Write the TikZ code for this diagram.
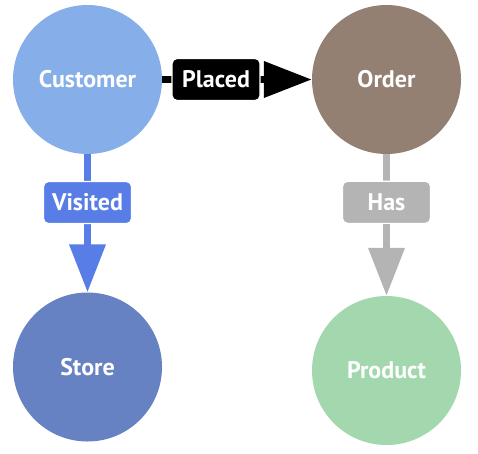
\documentclass[tikz,border=0pt]{standalone}
\usepackage{fontspec}
\setmainfont{PT Sans}
\usetikzlibrary{arrows.meta}
\definecolor{customer}{RGB}{134,174,232}
\definecolor{order}{RGB}{147,128,114}
\definecolor{store}{RGB}{102,130,194}
\definecolor{product}{RGB}{163,215,174}
\definecolor{visited}{RGB}{88,125,230}
\definecolor{has}{RGB}{180,180,180}
\tikzset{entity/.style={shape=circle, minimum size=149pt, inner sep=0pt,
    text=white, font=\bfseries\fontsize{24}{28}\selectfont}}
\tikzset{rel/.style={line width=7pt, -{Triangle[length=48pt,width=35pt]}}}
\tikzset{tag/.style={rounded corners=5pt, draw=white, line width=1.2pt,
    minimum width=88pt, minimum height=42pt, inner sep=0pt,
    text=white, font=\bfseries\fontsize{24}{28}\selectfont}}

\begin{document}
\begin{tikzpicture}[x=1pt,y=-1pt]
    \useasboundingbox (0,0) rectangle (478,453);

    \node[entity, fill=customer] (C) at (87.5,79.5) {Customer};
    \node[entity, fill=order] (O) at (386.5,79.5) {Order};
    \node[entity, fill=store] (S) at (87.5,367) {Store};
    \node[entity, fill=product] (P) at (386.5,370.5) {Product};

    \draw[rel, black] (C) -- (O) node[tag, fill=black, pos=0.36] {Placed};
    \draw[rel, visited] (C) -- (S) node[tag, fill=visited, pos=0.35] {Visited};
    \draw[rel, has] (O) -- (P) node[tag, fill=has, pos=0.34] {Has};

\end{tikzpicture}
\end{document}
